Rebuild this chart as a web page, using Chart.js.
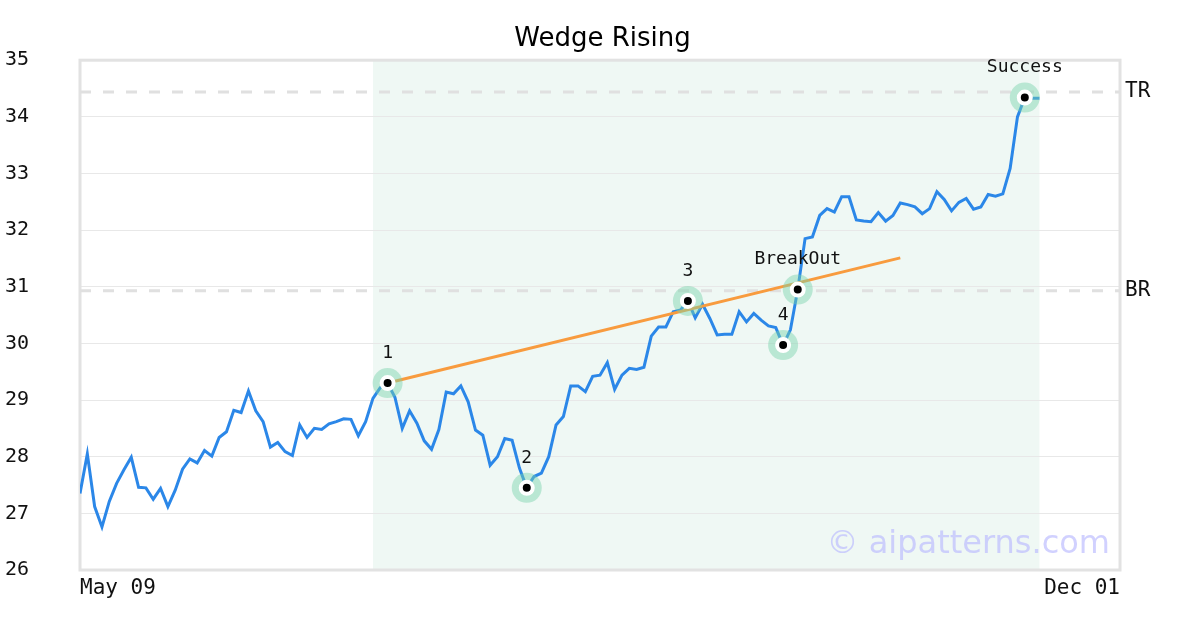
<!DOCTYPE html>
<html>
<head>
<meta charset="utf-8">
<script src="https://cdn.jsdelivr.net/npm/chart.js@4.4.1/dist/chart.umd.min.js"></script>
<style>
  html, body { margin: 0; padding: 0; background: #fff; }
  #wrap { width: 1200px; height: 630px; }
</style>
</head>
<body>
<div id="wrap"><canvas id="chart" width="1200" height="630"></canvas></div>
<script>
// daily closes, one per trading day from May 09
const prices = [
  27.35, 28.05, 27.12, 26.76, 27.21, 27.53, 27.77, 27.99, 27.46, 27.45,
  27.25, 27.44, 27.12, 27.41, 27.78, 27.96, 27.89, 28.11, 28.01, 28.34,
  28.44, 28.82, 28.78, 29.16, 28.81, 28.62, 28.17, 28.25, 28.09, 28.02,
  28.56, 28.34, 28.50, 28.48, 28.58, 28.62, 28.67, 28.66, 28.37, 28.62,
  29.03, 29.22, 29.30, 29.05, 28.50, 28.81, 28.59, 28.28, 28.13, 28.48,
  29.14, 29.11, 29.25, 28.97, 28.47, 28.38, 27.85, 28.00, 28.32, 28.29,
  27.80, 27.45, 27.65, 27.71, 28.00, 28.56, 28.71, 29.25, 29.25, 29.15,
  29.42, 29.44, 29.66, 29.19, 29.44, 29.56, 29.54, 29.58, 30.13, 30.29,
  30.29, 30.56, 30.59, 30.75, 30.45, 30.69, 30.44, 30.15, 30.16, 30.16,
  30.56, 30.38, 30.53, 30.41, 30.31, 30.28, 29.97, 30.24, 30.95, 31.85,
  31.88, 32.26, 32.38, 32.32, 32.59, 32.59, 32.18, 32.16, 32.15, 32.31,
  32.16, 32.26, 32.48, 32.45, 32.41, 32.29, 32.38, 32.68, 32.54, 32.34,
  32.49, 32.56, 32.37, 32.41, 32.63, 32.60, 32.64, 33.09, 34.00, 34.34,
  34.33, 34.33
];
const xTickLabels = ["May 09", "Dec 01"];
const xRange = [0, 142];
const yRange = [26, 35];

// pattern points
const pivotIdx = [42, 61, 83, 96, 98, 129];
const pivotLabels = ["1", "2", "3", "4", "BreakOut", "Success"];

// wedge trend line
const wedgeIdx = [42, 112];
const wedgeVals = [29.30, 31.51];

// breakout / target levels
const levelNames = ["BR", "TR"];
const levelVals = [30.93, 34.44];

// pattern zone (index range)
const zoneIdx = [40, 131];

const monoFont = "'DejaVu Sans Mono', monospace";
const sansFont = "'DejaVu Sans', sans-serif";

const pricePts = prices.map((v, i) => ({ x: i, y: v }));
const pivotPts = pivotIdx.map(i => ({ x: i, y: prices[i] }));
const wedgePts = wedgeIdx.map((x, i) => ({ x: x, y: wedgeVals[i] }));

const levelSets = levelVals.map(v => ({
  type: "line",
  data: [{ x: xRange[0], y: v }, { x: xRange[1], y: v }],
  borderColor: "#e0e0e0",
  borderWidth: 3,
  borderDash: [11, 12],
  pointRadius: 0,
  order: 5
}));

// white bg + shaded zone (under the grid)
const backdrop = {
  id: "backdrop",
  beforeDraw(chart) {
    const { ctx, chartArea, scales } = chart;
    ctx.save();
    ctx.fillStyle = "#fff";
    ctx.fillRect(0, 0, chart.width, chart.height);
    const x0 = scales.x.getPixelForValue(zoneIdx[0]);
    const x1 = scales.x.getPixelForValue(zoneIdx[1]);
    ctx.fillStyle = "#eff8f4";
    ctx.fillRect(x0, chartArea.top, x1 - x0, chartArea.bottom - chartArea.top);
    ctx.restore();
  },
  beforeDatasetsDraw(chart) {
    const { ctx, chartArea } = chart;
    ctx.save();
    ctx.strokeStyle = "#e2e2e2";
    ctx.lineWidth = 3;
    ctx.strokeRect(chartArea.left, chartArea.top, chartArea.right - chartArea.left, chartArea.bottom - chartArea.top);
    ctx.restore();
  }
};

// pivot labels + watermark
const annotations = {
  id: "annotations",
  afterDatasetsDraw(chart) {
    const { ctx, scales } = chart;
    ctx.save();
    ctx.font = "18px " + monoFont;
    ctx.fillStyle = "#111";
    ctx.textAlign = "center";
    ctx.textBaseline = "middle";
    pivotIdx.forEach((idx, i) => {
      const px = scales.x.getPixelForValue(idx);
      const py = scales.y.getPixelForValue(prices[idx]);
      ctx.fillText(pivotLabels[i], px, py - 30);
    });
    ctx.font = "32px " + sansFont;
    ctx.fillStyle = "rgba(185,185,255,0.65)";
    ctx.textAlign = "right";
    ctx.textBaseline = "alphabetic";
    ctx.fillText("\u00a9 aipatterns.com", 1110, 553);
    ctx.restore();
  }
};

new Chart(document.getElementById("chart"), {
  type: "scatter",
  data: {
    datasets: [
      {
        // marker dots
        data: pivotPts,
        pointRadius: 6,
        pointBackgroundColor: "#000",
        pointBorderColor: "#fff",
        pointBorderWidth: 4,
        showLine: false,
        order: 0
      },
      {
        // halos
        data: pivotPts,
        pointRadius: 15,
        pointBackgroundColor: "rgba(120,210,170,0.45)",
        pointBorderWidth: 0,
        showLine: false,
        order: 1
      },
      {
        type: "line",
        data: wedgePts,
        borderColor: "#f89b3e",
        borderWidth: 3,
        pointRadius: 0,
        order: 2
      },
      {
        type: "line",
        data: pricePts,
        borderColor: "#2b87e8",
        borderWidth: 3,
        pointRadius: 0,
        tension: 0,
        order: 3
      },
      ...levelSets
    ]
  },
  options: {
    responsive: false,
    animation: false,
    events: [],
    layout: { padding: { left: 5, right: 0, top: 0, bottom: 30 } },
    plugins: {
      legend: { display: false },
      tooltip: { enabled: false },
      title: {
        display: true,
        text: "Wedge Rising",
        color: "#000",
        font: { family: sansFont, size: 26, weight: "normal" },
        padding: { top: 24, bottom: 5 }
      }
    },
    scales: {
      x: {
        type: "linear",
        min: xRange[0],
        max: xRange[1],
        grid: { display: false, drawTicks: false },
        border: { display: false },
        afterBuildTicks: s => { s.ticks = xRange.map(v => ({ value: v })); },
        afterFit: s => { s.height = 30; },
        ticks: {
          align: "inner",
          autoSkip: false,
          maxRotation: 0,
          padding: 6,
          color: "#111",
          font: { family: monoFont, size: 21 },
          callback: (v, i) => xTickLabels[i]
        }
      },
      y: {
        min: yRange[0],
        max: yRange[1],
        grid: { color: "#e8e8e8", lineWidth: 1, drawTicks: false },
        border: { display: false },
        afterFit: s => { s.width = 75; },
        ticks: {
          stepSize: 1,
          crossAlign: "far",
          color: "#111",
          font: { family: monoFont, size: 20 }
        }
      },
      y2: {
        position: "right",
        min: yRange[0],
        max: yRange[1],
        grid: { display: false, drawTicks: false },
        border: { display: false },
        afterBuildTicks: s => { s.ticks = levelVals.map(v => ({ value: v })); },
        afterFit: s => { s.width = 80; },
        ticks: {
          autoSkip: false,
          padding: 5,
          color: "#111",
          font: { family: monoFont, size: 21 },
          callback: (v, i) => levelNames[i]
        }
      }
    }
  },
  plugins: [backdrop, annotations]
});
</script>
</body>
</html>
